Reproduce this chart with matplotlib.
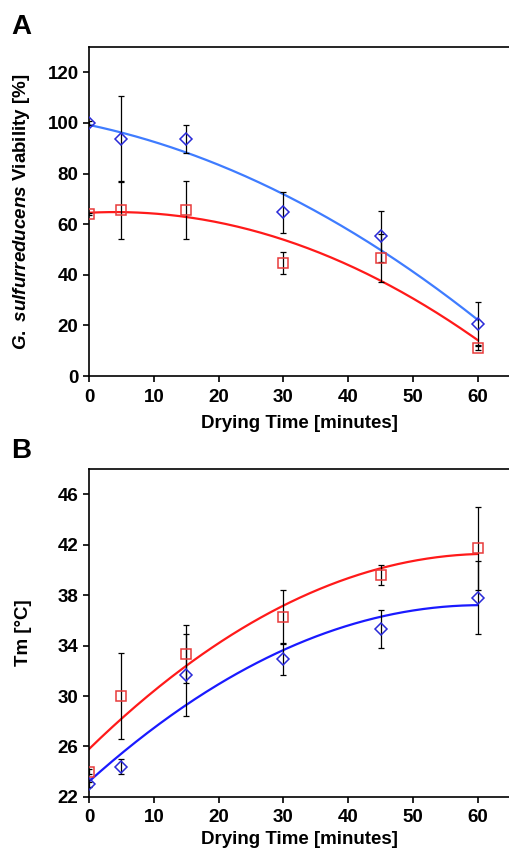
import matplotlib
matplotlib.use("Agg")
import matplotlib.pyplot as plt
import numpy as np

plt.rcParams['font.family'] = ['Liberation Sans', 'DejaVu Sans']
plt.rcParams['font.weight'] = 'bold'
plt.rcParams['mathtext.fontset'] = 'custom'
plt.rcParams['mathtext.it'] = 'Liberation Sans:italic:bold'
plt.rcParams['mathtext.rm'] = 'Liberation Sans:bold'

# drying time in minutes
time = [0, 5, 15, 30, 45, 60]

# panel A: viability [%]
via_blue = [100, 93.5, 93.5, 64.7, 55.2, 20.6]
via_blue_err = [0.8, 17, 5.5, 8, 10, 8.6]
via_red = [64, 65.5, 65.7, 44.8, 46.6, 11.2]
via_red_err = [0.5, 11.5, 11.4, 4.4, 9.5, 1.0]

# panel B: Tm [C]
tm_red = [24.0, 30.0, 33.35, 36.3, 39.6, 41.7]
tm_red_err = [0.2, 3.4, 2.3, 2.1, 0.8, 3.3]
tm_blue = [23.0, 24.4, 31.7, 32.9, 35.3, 37.8]
tm_blue_err = [0.2, 0.6, 3.25, 1.2, 1.5, 2.9]

fig = plt.figure(figsize=(5.09, 8.5), dpi=100)
axA = fig.add_axes([0.1749, 0.5576, 0.8251, 0.3871])
axB = fig.add_axes([0.1749, 0.0624, 0.8251, 0.3859])

xs = np.linspace(0, 60, 200)
FS = 13.5


def panel(ax, ys, errs, colors, markers, linecolors, lpad):
    for y, e, c, m, lc in zip(ys, errs, colors, markers, linecolors):
        fit = np.polyfit(time, y, 2)
        ax.plot(xs, np.polyval(fit, xs), color=lc, lw=1.6, zorder=2)
        ax.errorbar(time, y, yerr=e, fmt='none', ecolor='black', elinewidth=0.9,
                    capsize=2.5, capthick=0.9, zorder=3)
        ax.plot(time, y, linestyle='none', marker=m, ms=6.5 if m == 'D' else 7,
                mfc='none', mec=c, mew=1.1, zorder=4)
    ax.set_xlim(0, 64.8)
    ax.set_xticks([0, 10, 20, 30, 40, 50, 60])
    ax.spines['right'].set_visible(False)
    for s in ['left', 'top', 'bottom']:
        ax.spines[s].set_linewidth(1.2)
    ax.tick_params(direction='out', length=4, width=1.2, labelsize=FS)
    ax.tick_params(axis='x', pad=5)
    for lab in ax.get_xticklabels() + ax.get_yticklabels():
        lab.set_fontweight('bold')
    ax.set_xlabel('Drying Time [minutes]', fontsize=FS, fontweight='bold', labelpad=lpad)


panel(axA, [via_blue, via_red], [via_blue_err, via_red_err],
      ['#2a2ad8', '#e83a3a'], ['D', 's'], ['#3f7cff', '#ff1a1a'], 7)
axA.set_ylim(0, 130)
axA.set_yticks([0, 20, 40, 60, 80, 100, 120])
axA.set_ylabel(r'$\mathit{G.\ sulfurreducens}$ Viability [%]', fontsize=FS,
               fontweight='bold')
axA.yaxis.set_label_coords(-0.136, 0.5)

panel(axB, [tm_red, tm_blue], [tm_red_err, tm_blue_err],
      ['#e83a3a', '#2a2ad8'], ['s', 'D'], ['#ff1a1a', '#1a1aff'], 3)
axB.set_ylim(22, 48)
axB.set_yticks([22, 26, 30, 34, 38, 42, 46])
axB.set_ylabel('Tm [°C]', fontsize=FS, fontweight='bold')
axB.yaxis.set_label_coords(-0.136, 0.5)

fig.text(0.022, 0.96, 'A', fontsize=20, fontweight='bold')
fig.text(0.022, 0.4615, 'B', fontsize=20, fontweight='bold')

fig.savefig('out.png', dpi=100)
